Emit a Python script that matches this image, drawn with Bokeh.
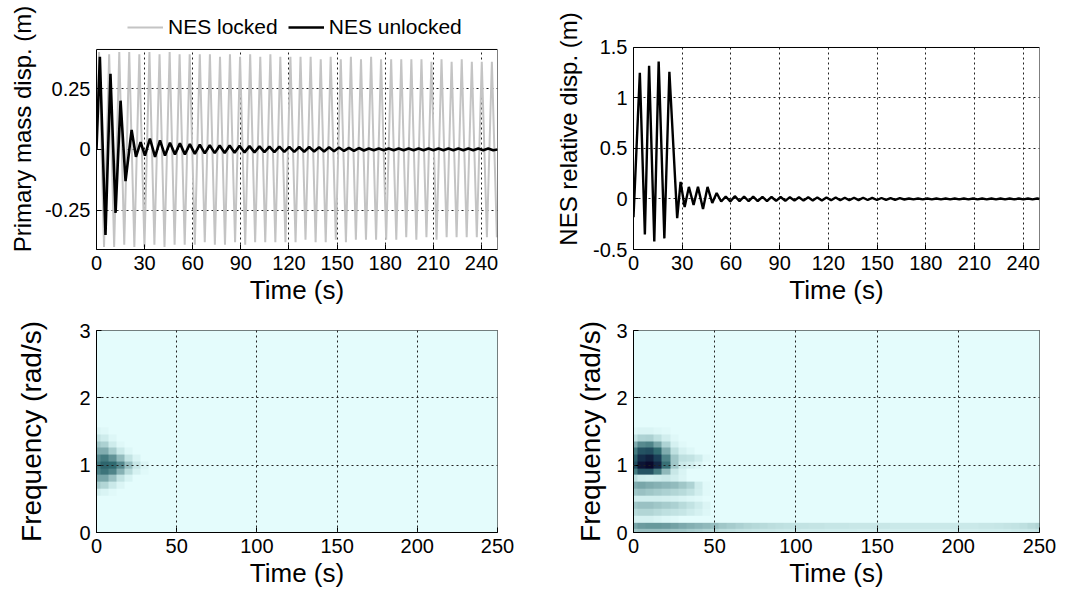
import numpy as np
from bokeh.plotting import figure
from bokeh.layouts import column, row
from bokeh.models import FixedTicker, Legend, LegendItem, LinearColorMapper, BoxAnnotation
from bokeh.embed import file_html
from bokeh.resources import INLINE

# ---------------- data ----------------
# Primary mass displacement, NES locked: extrema times (s) and values (m)
locked_t = [0.0, 1.6, 4.7, 7.9, 11.0, 14.2, 17.3, 20.4, 23.6, 26.7, 29.9, 33.0, 36.1, 39.3,
            42.4, 45.6, 48.7, 51.8, 55.0, 58.1, 61.3, 64.4, 67.5, 70.7, 73.8, 77.0, 80.1,
            83.2, 86.4, 89.5, 92.7, 95.8, 98.9, 102.1, 105.2, 108.4, 111.5, 114.6, 117.8,
            120.9, 124.1, 127.2, 130.3, 133.5, 136.6, 139.8, 142.9, 146.0, 149.2, 152.3,
            155.5, 158.6, 161.7, 164.9, 168.0, 171.2, 174.3, 177.4, 180.6, 183.7, 186.9,
            190.0, 193.1, 196.3, 199.4, 202.6, 205.7, 208.8, 212.0, 215.1, 218.3, 221.4,
            224.5, 227.7, 230.8, 234.0, 237.1, 240.2, 243.4, 246.5, 249.6, 250.0]
locked_x = [0.0, 0.40, -0.40, 0.39, -0.40, 0.40, -0.39, 0.40, -0.40, 0.39, -0.40, 0.40, -0.39, 0.39,
            -0.40, 0.40, -0.39, 0.39, -0.39, 0.39, -0.39, 0.39, -0.38, 0.39, -0.39, 0.38, -0.39,
            0.39, -0.38, 0.38, -0.39, 0.39, -0.38, 0.38, -0.38, 0.39, -0.38, 0.38, -0.38,
            0.38, -0.38, 0.38, -0.37, 0.38, -0.38, 0.37, -0.38, 0.38, -0.37, 0.37,
            -0.38, 0.38, -0.37, 0.37, -0.37, 0.38, -0.37, 0.37, -0.37, 0.37, -0.37,
            0.37, -0.36, 0.37, -0.37, 0.37, -0.36, 0.36, -0.37, 0.37, -0.36, 0.36,
            -0.36, 0.37, -0.36, 0.36, -0.36, 0.36, -0.36, 0.36, -0.36, -0.35]

# Primary mass displacement, NES unlocked
unlocked_t = [0.0, 2.1, 5.6, 8.7, 11.9, 15.0, 18.1, 21.9, 24.6, 27.5, 30.2, 33.3, 36.5, 39.6,
              42.7, 45.8, 48.9, 52.0, 55.1, 58.2, 61.3, 64.4, 67.5, 70.6, 73.7, 76.8, 79.9,
              83.0, 86.1, 89.2, 92.3, 95.4, 98.5, 101.6, 104.7, 107.8, 110.9, 114.0, 117.1,
              120.2, 123.3, 126.4, 129.5, 132.6, 135.7, 138.8, 141.9, 145.0, 148.1, 151.2,
              154.3, 157.4, 160.5, 163.6, 166.7, 169.8, 172.9, 176.0, 179.1, 182.2, 185.3,
              188.4, 191.5, 194.6, 197.7, 200.8, 203.9, 207.0, 210.1, 213.2, 216.3, 219.4,
              222.5, 225.6, 228.7, 231.8, 234.9, 238.0, 241.1, 244.2, 247.3, 250.0]
unlocked_x = [0.0, 0.38, -0.35, 0.31, -0.26, 0.20, -0.13, 0.08, -0.03, 0.03, -0.025, 0.045, -0.03, 0.037,
              -0.025, 0.028, -0.02, 0.025, -0.02, 0.022, -0.018, 0.02, -0.016, 0.018, -0.015, 0.016, -0.014,
              0.016, -0.013, 0.015, -0.012, 0.014, -0.012, 0.013, -0.011, 0.012, -0.011, 0.012, -0.010,
              0.011, -0.010, 0.010, -0.009, 0.010, -0.008, 0.009, -0.008, 0.009, -0.007, 0.008,
              -0.006, 0.007, -0.006, 0.006, -0.004, 0.004, -0.003, 0.004, -0.003, 0.004, -0.003,
              0.004, -0.003, 0.004, -0.003, 0.004, -0.003, 0.004, -0.003, 0.004, -0.003, 0.004,
              -0.003, 0.004, -0.003, 0.004, -0.003, 0.004, -0.003, 0.004, -0.003, 0.0]

# NES relative displacement
nes_t = [0.0, 3.9, 7.0, 9.6, 12.8, 15.5, 19.0, 22.1, 26.9, 29.0, 31.5, 34.1, 37.0, 39.7, 42.8,
         45.6, 48.5, 51.2, 54.0, 56.8, 59.6, 62.4, 65.3, 68.1, 70.9, 73.7, 76.5, 79.4, 82.2,
         85.0, 87.8, 90.6, 93.5, 96.3, 99.1, 101.9, 104.7, 107.6, 110.4, 113.2, 116.0, 118.8,
         121.7, 124.5, 127.3, 130.1, 132.9, 135.8, 138.6, 141.4, 144.2, 147.0, 149.9, 152.7,
         155.5, 158.3, 161.1, 164.0, 166.8, 169.6, 172.4, 175.2, 178.1, 180.9, 183.7, 186.5,
         189.3, 192.2, 195.0, 197.8, 200.6, 203.4, 206.3, 209.1, 211.9, 214.7, 217.5, 220.4,
         223.2, 226.0, 228.8, 231.6, 234.5, 237.3, 240.1, 242.9, 245.7, 248.6, 250.0]
nes_x = [-0.18, 1.25, -0.35, 1.32, -0.42, 1.36, -0.39, 1.26, -0.19, 0.17, -0.08, 0.12, -0.06, 0.12, -0.10,
         0.12, -0.04, 0.06, -0.025, 0.025, -0.025, 0.028, -0.022, 0.025, -0.022, 0.024, -0.020, 0.022, -0.020,
         0.020, -0.018, 0.020, -0.018, 0.018, -0.016, 0.018, -0.016, 0.017, -0.015, 0.016, -0.014, 0.015,
         -0.013, 0.014, -0.012, 0.013, -0.012, 0.012, -0.011, 0.012, -0.010, 0.011, -0.010, 0.010,
         -0.009, 0.009, -0.008, 0.008, -0.005, 0.005, -0.004, 0.005, -0.004, 0.005, -0.004, 0.005,
         -0.004, 0.005, -0.004, 0.005, -0.004, 0.005, -0.004, 0.005, -0.004, 0.005, -0.004, 0.005,
         -0.004, 0.005, -0.004, 0.005, -0.004, 0.005, -0.004, 0.005, -0.004, 0.005, 0.0]

# Wavelet-type time-frequency maps: relative magnitude (0..1) on a 5 s x 0.1 rad/s grid
cwt_time = [float(v) for v in range(0, 255, 5)]          # 0 ... 250 s
cwt_freq = [round(0.1 * k, 1) for k in range(31)]        # 0 ... 3 rad/s

locked_rows_f = [0.6, 0.7, 0.8, 0.9, 1.0, 1.1, 1.2, 1.3, 1.4, 1.5]
locked_rows_v = [
    [0.10, 0.06, 0.02],
    [0.28, 0.24, 0.14, 0.05],
    [0.42, 0.42, 0.32, 0.18, 0.07],
    [0.52, 0.57, 0.52, 0.38, 0.22, 0.08, 0.02],
    [0.55, 0.62, 0.60, 0.50, 0.33, 0.16, 0.05],
    [0.50, 0.55, 0.48, 0.34, 0.18, 0.06],
    [0.40, 0.40, 0.28, 0.14, 0.04],
    [0.30, 0.26, 0.12, 0.03],
    [0.18, 0.12, 0.04],
    [0.06, 0.03],
]

unlocked_rows_f = [0.0, 0.1, 0.2, 0.3, 0.4, 0.5, 0.6, 0.7, 0.8, 0.9, 1.0, 1.1, 1.2, 1.3, 1.4, 1.5]
unlocked_rows_v = [
    [0.30, 0.32, 0.32, 0.32, 0.31, 0.30, 0.29, 0.27, 0.26, 0.24, 0.23, 0.21, 0.20, 0.18, 0.17, 0.16,
     0.15, 0.15, 0.14, 0.13, 0.13, 0.12, 0.12, 0.12, 0.11, 0.11, 0.11, 0.11, 0.10, 0.10, 0.10, 0.10,
     0.10, 0.10, 0.10, 0.10, 0.10, 0.10, 0.10, 0.10, 0.10, 0.10, 0.10, 0.11, 0.11, 0.11, 0.12, 0.13,
     0.14, 0.15, 0.17],
    [0.42, 0.45, 0.46, 0.46, 0.45, 0.43, 0.41, 0.39, 0.37, 0.35, 0.33, 0.30, 0.28, 0.26, 0.24, 0.23,
     0.22, 0.21, 0.20, 0.19, 0.18, 0.18, 0.17, 0.17, 0.16, 0.16, 0.16, 0.15, 0.15, 0.15, 0.15, 0.15,
     0.14, 0.14, 0.14, 0.14, 0.14, 0.14, 0.14, 0.14, 0.14, 0.14, 0.14, 0.15, 0.15, 0.16, 0.17, 0.18,
     0.20, 0.22, 0.24],
    [0.08, 0.08, 0.08, 0.06, 0.04, 0.02],
    [0.22, 0.24, 0.24, 0.22, 0.20, 0.18, 0.16, 0.12, 0.08, 0.04],
    [0.30, 0.32, 0.32, 0.30, 0.28, 0.26, 0.22, 0.18, 0.12, 0.05],
    [0.10, 0.10, 0.10, 0.10, 0.09, 0.08, 0.06, 0.04, 0.02],
    [0.30, 0.32, 0.30, 0.28, 0.26, 0.24, 0.22, 0.18, 0.10, 0.02],
    [0.40, 0.42, 0.40, 0.38, 0.36, 0.34, 0.30, 0.25, 0.12, 0.02],
    [0.20, 0.12, 0.10, 0.12, 0.14, 0.10, 0.05],
    [0.55, 0.70, 0.70, 0.55, 0.35, 0.15, 0.06],
    [0.72, 0.95, 1.00, 0.88, 0.58, 0.30, 0.14, 0.10, 0.05],
    [0.65, 0.85, 0.90, 0.78, 0.52, 0.30, 0.20, 0.18, 0.12, 0.03],
    [0.55, 0.70, 0.72, 0.60, 0.40, 0.20, 0.08, 0.04],
    [0.40, 0.50, 0.52, 0.42, 0.25, 0.08, 0.02],
    [0.18, 0.25, 0.26, 0.20, 0.10, 0.03],
    [0.04, 0.06, 0.06, 0.04, 0.02],
]

top_xticks = [0, 30, 60, 90, 120, 150, 180, 210, 240]
top_xlabels = ["0", "30", "60", "90", "120", "150", "180", "210", "240"]
prim_yticks = [-0.25, 0, 0.25]
prim_ylabels = ["-0.25", "0", "0.25"]
nes_yticks = [-0.5, 0, 0.5, 1, 1.5]
nes_ylabels = ["-0.5", "0", "0.5", "1", "1.5"]
bot_xticks = [0, 50, 100, 150, 200, 250]
bot_xlabels = ["0", "50", "100", "150", "200", "250"]
bot_yticks = [0, 1, 2, 3]
bot_ylabels = ["0", "1", "2", "3"]
legend_labels = ["NES locked", "NES unlocked"]

# axis limits of the top panels (their boxes); the strip above each box holds the legend
PRIM_LIM = (-0.41, 0.41)
PRIM_VIEW_TOP = 0.578
NES_LIM = (-0.5, 1.5)
NES_VIEW_TOP = 1.886

# ---------------- styling helpers ----------------
FONT = "Liberation Sans"
GRAY = "#c4c4c4"


def style(p, xt, xl, yt, yl, ylab_standoff, ylab_size, grid_over=False):
    p.xaxis.ticker = FixedTicker(ticks=xt)
    p.yaxis.ticker = FixedTicker(ticks=yt)
    p.xaxis.major_label_overrides = {t: l for t, l in zip(xt, xl)}
    p.yaxis.major_label_overrides = {t: l for t, l in zip(yt, yl)}
    for ax in (p.xaxis[0], p.yaxis[0]):
        ax.major_label_text_font = FONT
        ax.major_label_text_font_size = "20px"
        ax.major_label_text_color = "black"
        ax.axis_label_text_font = FONT
        ax.axis_label_text_font_style = "normal"
        ax.axis_label_text_color = "black"
        ax.axis_line_color = "black"
        ax.major_tick_in = 5
        ax.major_tick_out = 0
        ax.major_tick_line_color = "black"
        ax.minor_tick_line_color = None
    p.xaxis.axis_label_text_font_size = "26px"
    p.yaxis.axis_label_text_font_size = ylab_size
    p.xaxis.major_label_standoff = 6
    p.xaxis.axis_label_standoff = 2
    p.yaxis.major_label_standoff = 6
    p.yaxis.axis_label_standoff = ylab_standoff
    p.outline_line_color = "black"
    p.outline_line_alpha = 1.0
    for g in (p.xgrid[0], p.ygrid[0]):
        g.grid_line_color = "#202020"
        g.grid_line_dash = "2 3"
        g.grid_line_width = 1
        if grid_over:
            g.level = "overlay"


def boxed_top(p, lim):
    """Axes box limited to `lim` (the frame extends above it for the legend)."""
    p.outline_line_color = None
    p.yaxis.bounds = lim
    p.xgrid.cross_bounds = lim
    p.add_layout(BoxAnnotation(left=0, right=250, bottom=lim[0], top=lim[1],
                               fill_alpha=0, line_color="black", line_width=1, line_alpha=1))


def make_palette():
    stops = [(0.00, (228, 252, 252)), (0.20, (190, 224, 224)), (0.40, (128, 172, 175)),
             (0.60, (48, 106, 112)), (0.80, (24, 58, 84)), (1.00, (10, 10, 44))]
    pal = []
    for i in range(256):
        v = i / 255
        for (a, ca), (b, cb) in zip(stops[:-1], stops[1:]):
            if a <= v <= b:
                w = (v - a) / (b - a)
                c = [int(round(ca[k] + (cb[k] - ca[k]) * w)) for k in range(3)]
                pal.append("#%02x%02x%02x" % tuple(c))
                break
    return pal


PALETTE = make_palette()


def grid_from_rows(rows_f, rows_v):
    arr = np.zeros((len(cwt_freq), len(cwt_time)))
    for f, vals in zip(rows_f, rows_v):
        i = cwt_freq.index(f)
        n = min(len(vals), len(cwt_time))
        arr[i, :n] = vals[:n]
    return arr


# ---------------- figures ----------------
common = dict(output_backend="svg", toolbar_location=None, tools="", sizing_mode="fixed")

p1 = figure(width=545, height=311, x_range=(0, 250), y_range=(PRIM_LIM[0], PRIM_VIEW_TOP),
            min_border_left=96, min_border_right=48, min_border_top=8, min_border_bottom=62,
            **common)
r_locked = p1.line(locked_t, locked_x, line_color=GRAY, line_width=2)
r_unlocked = p1.line(unlocked_t, unlocked_x, line_color="black", line_width=2.6)
p1.xaxis.axis_label = "Time (s)"
p1.yaxis.axis_label = "Primary mass disp. (m)"
style(p1, top_xticks, top_xlabels, prim_yticks, prim_ylabels, 6, "24px")
boxed_top(p1, PRIM_LIM)
legend = Legend(items=[LegendItem(label=legend_labels[0], renderers=[r_locked]),
                       LegendItem(label=legend_labels[1], renderers=[r_unlocked])],
                orientation="horizontal", location=(29, 208),
                border_line_alpha=0, background_fill_alpha=0,
                label_text_font=FONT, label_text_font_size="21px", label_text_color="black",
                glyph_width=36, label_standoff=5, spacing=10, padding=2, margin=0)
p1.add_layout(legend)

p2 = figure(width=514, height=311, x_range=(0, 250), y_range=(NES_LIM[0], NES_VIEW_TOP),
            min_border_left=88, min_border_right=20, min_border_top=8, min_border_bottom=62,
            **common)
p2.line(nes_t, nes_x, line_color="black", line_width=2.4)
p2.xaxis.axis_label = "Time (s)"
p2.yaxis.axis_label = "NES relative disp. (m)"
style(p2, top_xticks, top_xlabels, nes_yticks, nes_ylabels, 8, "24px")
boxed_top(p2, NES_LIM)

mapper = LinearColorMapper(palette=PALETTE, low=0.0, high=1.0)

p3 = figure(width=545, height=279, x_range=(0, 250), y_range=(0, 3),
            min_border_left=96, min_border_right=48, min_border_top=19, min_border_bottom=57,
            **common)
p3.background_fill_color = PALETTE[0]
p3.image(image=[grid_from_rows(locked_rows_f, locked_rows_v)], x=-2.5, y=-0.05,
         dw=255, dh=3.1, color_mapper=mapper)
p3.xaxis.axis_label = "Time (s)"
p3.yaxis.axis_label = "Frequency (rad/s)"
style(p3, bot_xticks, bot_xlabels, bot_yticks, bot_ylabels, 29, "28px", grid_over=True)

p4 = figure(width=514, height=279, x_range=(0, 250), y_range=(0, 3),
            min_border_left=88, min_border_right=20, min_border_top=19, min_border_bottom=57,
            **common)
p4.background_fill_color = PALETTE[0]
p4.image(image=[grid_from_rows(unlocked_rows_f, unlocked_rows_v)], x=-2.5, y=-0.05,
         dw=255, dh=3.1, color_mapper=mapper)
p4.xaxis.axis_label = "Time (s)"
p4.yaxis.axis_label = "Frequency (rad/s)"
style(p4, bot_xticks, bot_xlabels, bot_yticks, bot_ylabels, 7, "28px", grid_over=True)

layout = column(row(p1, p2), row(p3, p4))
open("out.html", "w").write(file_html(layout, INLINE))
